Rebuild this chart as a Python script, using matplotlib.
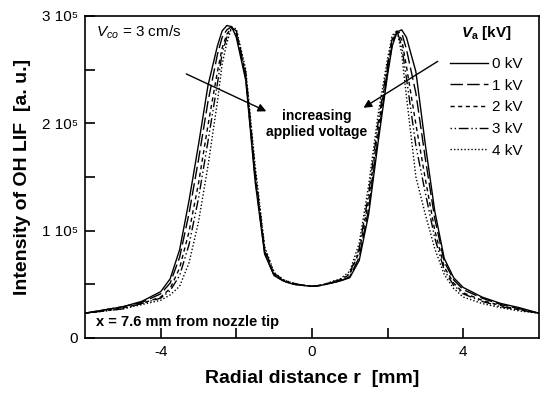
import matplotlib
matplotlib.use("Agg")
import matplotlib.pyplot as plt

plt.rcParams['font.family'] = ['Liberation Sans', 'DejaVu Sans']
plt.rcParams['mathtext.fontset'] = 'custom'
plt.rcParams['mathtext.rm'] = 'Liberation Sans'
plt.rcParams['mathtext.it'] = 'Liberation Sans:italic'
plt.rcParams['mathtext.bf'] = 'Liberation Sans:bold'
plt.rcParams['mathtext.bfit'] = 'Liberation Sans:bold:italic'

# radial distance r [mm]
r = [-6, -5.5, -5, -4.5, -4, -3.75, -3.5, -3.25, -3, -2.75, -2.5, -2.375, -2.25, -2.125, -2,
     -1.75, -1.5, -1.25, -1, -0.75, -0.5, -0.25, 0, 0.25, 0.5, 0.75, 1, 1.25,
     1.5, 1.75, 2, 2.125, 2.25, 2.375, 2.5, 2.75, 3, 3.25, 3.5, 3.75, 4, 4.5, 5, 5.5, 6]

# OH LIF intensity, in units of 1e5
lif_0kv = [0.23, 0.26, 0.29, 0.34, 0.43, 0.55, 0.82, 1.28, 1.80, 2.35, 2.72, 2.86, 2.91, 2.90, 2.80,
           2.40, 1.45, 0.78, 0.58, 0.53, 0.50, 0.49, 0.48, 0.49, 0.51, 0.53, 0.56, 0.72,
           1.15, 1.82, 2.45, 2.72, 2.85, 2.87, 2.80, 2.48, 1.80, 1.18, 0.74, 0.56, 0.47, 0.38, 0.32, 0.28, 0.23]
lif_1kv = [0.23, 0.26, 0.29, 0.33, 0.41, 0.51, 0.75, 1.16, 1.66, 2.20, 2.64, 2.80, 2.87, 2.90, 2.83,
           2.42, 1.48, 0.79, 0.58, 0.53, 0.50, 0.49, 0.48, 0.49, 0.51, 0.53, 0.57, 0.75,
           1.20, 1.87, 2.48, 2.74, 2.85, 2.84, 2.69, 2.28, 1.67, 1.11, 0.71, 0.54, 0.45, 0.37, 0.31, 0.27, 0.23]
lif_2kv = [0.23, 0.25, 0.28, 0.32, 0.38, 0.46, 0.65, 0.99, 1.44, 1.98, 2.48, 2.70, 2.83, 2.89, 2.85,
           2.45, 1.52, 0.81, 0.59, 0.53, 0.50, 0.49, 0.48, 0.49, 0.51, 0.54, 0.59, 0.80,
           1.28, 1.95, 2.52, 2.77, 2.85, 2.78, 2.53, 1.99, 1.48, 1.00, 0.66, 0.51, 0.42, 0.35, 0.30, 0.26, 0.23]
lif_3kv = [0.23, 0.25, 0.27, 0.32, 0.37, 0.44, 0.58, 0.87, 1.30, 1.83, 2.37, 2.65, 2.80, 2.89, 2.86,
           2.47, 1.55, 0.83, 0.60, 0.54, 0.51, 0.49, 0.48, 0.49, 0.52, 0.54, 0.60, 0.83,
           1.34, 2.00, 2.55, 2.79, 2.86, 2.72, 2.42, 1.79, 1.35, 0.93, 0.63, 0.49, 0.41, 0.34, 0.29, 0.26, 0.23]
lif_4kv = [0.23, 0.25, 0.27, 0.31, 0.35, 0.40, 0.48, 0.70, 1.08, 1.60, 2.20, 2.55, 2.75, 2.89, 2.88,
           2.50, 1.60, 0.85, 0.61, 0.54, 0.51, 0.49, 0.48, 0.49, 0.52, 0.55, 0.62, 0.88,
           1.42, 2.08, 2.60, 2.82, 2.86, 2.65, 2.25, 1.50, 1.15, 0.83, 0.59, 0.46, 0.38, 0.32, 0.28, 0.25, 0.23]

series = [lif_0kv, lif_1kv, lif_2kv, lif_3kv, lif_4kv]
labels = ['0 kV', '1 kV', '2 kV', '3 kV', '4 kV']
styles = ['-', (0, (9, 3)), (0, (3, 2.5)), (0, (1, 2, 1, 2, 7, 2)), (0, (1, 1.5))]

yticks = [0, 1, 2, 3]
yticklabels = ['0', '1 10⁵', '2 10⁵', '3 10⁵']
xticks = [-4, 0, 4]

fig = plt.figure(figsize=(5.42, 3.97), dpi=100)
ax = fig.add_axes([0.157, 0.149, 0.837, 0.811])

for vals, lab, ls in zip(series, labels, styles):
    ax.plot(r, vals, color='black', lw=1.0, ls=ls, label=lab)

ax.set_xlim(-6, 6)
ax.set_ylim(0, 3)
ax.set_xticks(xticks)
ax.set_xticks([-2, 2], minor=True)
ax.set_xticklabels(['-4', '0', '4'])
ax.set_yticks(yticks)
ax.set_yticks([0.5, 1.5, 2.5], minor=True)
ax.set_yticklabels(yticklabels)
ax.tick_params(which='both', direction='in', length=7, width=1.2, labelsize=11, color='black')
ax.tick_params(axis='x', pad=5)
ax.tick_params(axis='y', pad=5)
for s in ax.spines.values():
    s.set_linewidth(1.2)

ax.set_xlabel('Radial distance r  [mm]', fontsize=14, fontweight='bold', labelpad=8)
ax.set_ylabel('Intensity of OH LIF  [a. u.]', fontsize=14, fontweight='bold', labelpad=8)

# annotations
ax.text(0.025, 0.95, r'$V_{co}$ = 3 cm/s', transform=ax.transAxes, fontsize=11,
        va='center', ha='left')
ax.text(0.025, 0.05, 'x = 7.6 mm from nozzle tip', transform=ax.transAxes, fontsize=10.5,
        fontweight='bold', va='center', ha='left')
ax.text(0.13, 1.99, 'increasing\napplied voltage', fontsize=10, fontweight='bold',
        ha='center', va='center', linespacing=1.15)
ax.annotate('', xy=(-1.14, 2.10), xytext=(-3.39, 2.47),
            arrowprops=dict(arrowstyle='-|>', color='black', lw=1.0, mutation_scale=12))
ax.annotate('', xy=(1.3, 2.13), xytext=(3.39, 2.59),
            arrowprops=dict(arrowstyle='-|>', color='black', lw=1.0, mutation_scale=12))

leg = ax.legend(loc='upper left', bbox_to_anchor=(0.805, 0.975), frameon=False,
                fontsize=11, handlelength=2.5, handletextpad=0.2, labelspacing=0.5,
                borderpad=0, borderaxespad=0,
                title=r'$\mathbfit{V}_{\mathbf{a}}$ [kV]',
                title_fontproperties={'size': 11, 'weight': 'bold'})
leg._legend_box.sep = 11

fig.savefig('out.png', dpi=100)
